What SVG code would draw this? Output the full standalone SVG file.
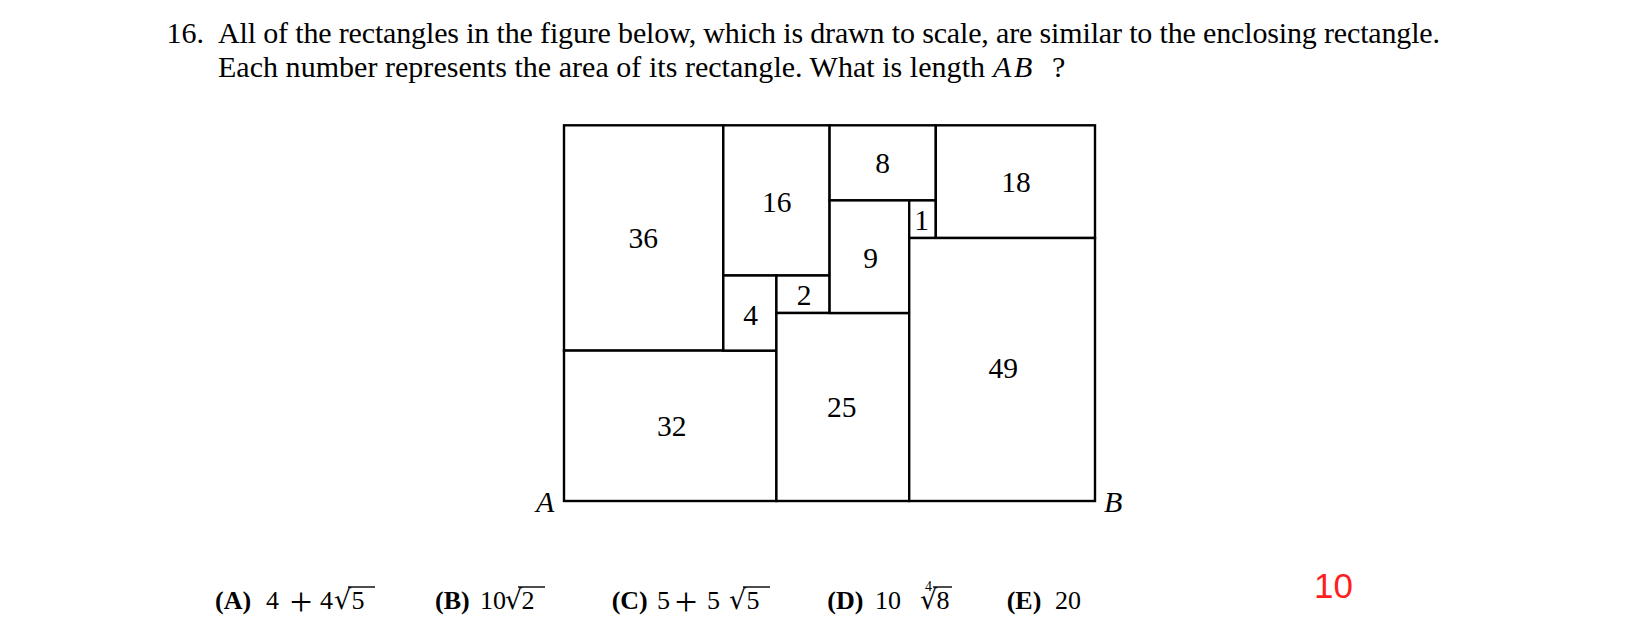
<svg xmlns="http://www.w3.org/2000/svg" width="1647" height="640" viewBox="0 0 1647 640">
<style>
.t{font-family:"Liberation Serif","Times New Roman",serif;fill:#000}
.q{font-size:30px}
.lbl{font-size:29.5px;text-anchor:middle}
.ans{font-size:26px}
.b{font-weight:bold}
.i{font-style:italic}
.pl{font-size:40px;text-anchor:middle}
.rad{font-family:"DejaVu Serif",serif;font-size:27px}
.r{fill:#fff;stroke:#000;stroke-width:2.4}
.bar{stroke:#000;stroke-width:1.4}
</style>
<rect width="1647" height="640" fill="#fff"/>
<g id="question">
<text class="t q" x="166.5" y="43.3">16.</text>
<text class="t q" x="218" y="43.3" textLength="1222" lengthAdjust="spacing">All of the rectangles in the figure below, which is drawn to scale, are similar to the enclosing rectangle.</text>
<text class="t q" x="218" y="76.7" textLength="767" lengthAdjust="spacing">Each number represents the area of its rectangle. What is length</text>
<text class="t q i" x="993" y="76.7">A</text>
<text class="t q i" x="1014" y="76.7">B</text>
<text class="t q" x="1052" y="76.7">?</text>
</g>
<g id="r36"><rect class="r" x="564" y="125.3" width="159.3" height="225.3"/><text class="t lbl" x="643.3" y="248.3">36</text></g>
<g id="r32"><rect class="r" x="564" y="350.6" width="212.4" height="150.4"/><text class="t lbl" x="671.7" y="436">32</text></g>
<g id="r16"><rect class="r" x="723.3" y="125.3" width="106.3" height="150.2"/><text class="t lbl" x="776.7" y="211.7">16</text></g>
<g id="r4"><rect class="r" x="723.3" y="275.5" width="53.1" height="75.1"/><text class="t lbl" x="750.7" y="325">4</text></g>
<g id="r2"><rect class="r" x="776.4" y="275.5" width="53.2" height="37.5"/><text class="t lbl" x="804" y="305">2</text></g>
<g id="r25"><rect class="r" x="776.4" y="313" width="132.8" height="188"/><text class="t lbl" x="841.7" y="416.7">25</text></g>
<g id="r8"><rect class="r" x="829.6" y="125.3" width="106.2" height="75.1"/><text class="t lbl" x="882.7" y="173.3">8</text></g>
<g id="r9"><rect class="r" x="829.6" y="200.4" width="79.6" height="112.6"/><text class="t lbl" x="870.7" y="268.3">9</text></g>
<g id="r1"><rect class="r" x="909.2" y="200.4" width="26.6" height="37.6"/><text class="t lbl" x="921.7" y="230">1</text></g>
<g id="r18"><rect class="r" x="935.8" y="125.3" width="159.2" height="112.7"/><text class="t lbl" x="1016" y="192.3">18</text></g>
<g id="r49"><rect class="r" x="909.2" y="238" width="185.8" height="263"/><text class="t lbl" x="1003.3" y="378.3">49</text></g>
<g id="points">
<text class="t q i" x="536" y="511.7">A</text>
<text class="t q i" x="1104" y="511.7">B</text>
</g>
<g id="answers" class="t ans">
<text x="215" y="608.5" class="b">(A)</text>
<text x="266" y="608.5">4</text><text class="pl" x="301" y="615">+</text><text x="320" y="608.5">4</text>
<text class="rad" x="334" y="608.5">√</text><text x="351.5" y="608.5">5</text><line class="bar" x1="348" y1="587" x2="375" y2="587"/>
<text x="435" y="608.5" class="b">(B)</text>
<text x="480" y="608.5">10</text>
<text class="rad" x="505" y="608.5">√</text><text x="521.5" y="608.5">2</text><line class="bar" x1="518" y1="587" x2="545" y2="587"/>
<text x="611.7" y="608.5" class="b">(C)</text>
<text x="657" y="608.5">5</text><text class="pl" x="686" y="615">+</text><text x="707" y="608.5">5</text>
<text class="rad" x="729" y="608.5">√</text><text x="746.5" y="608.5">5</text><line class="bar" x1="743" y1="587" x2="770" y2="587"/>
<text x="827.3" y="608.5" class="b">(D)</text>
<text x="875" y="608.5">10</text>
<text x="925" y="591" font-size="14">4</text>
<text class="rad" x="920" y="608.5">√</text><text x="936.5" y="608.5">8</text><line class="bar" x1="933" y1="587" x2="952" y2="587"/>
<text x="1006.7" y="608.5" class="b">(E)</text>
<text x="1055" y="608.5">20</text>
</g>
<g id="page"><text x="1314" y="598" font-family="Liberation Sans, Arial, sans-serif" font-size="35" fill="#ff1e1e">10</text></g>
</svg>
